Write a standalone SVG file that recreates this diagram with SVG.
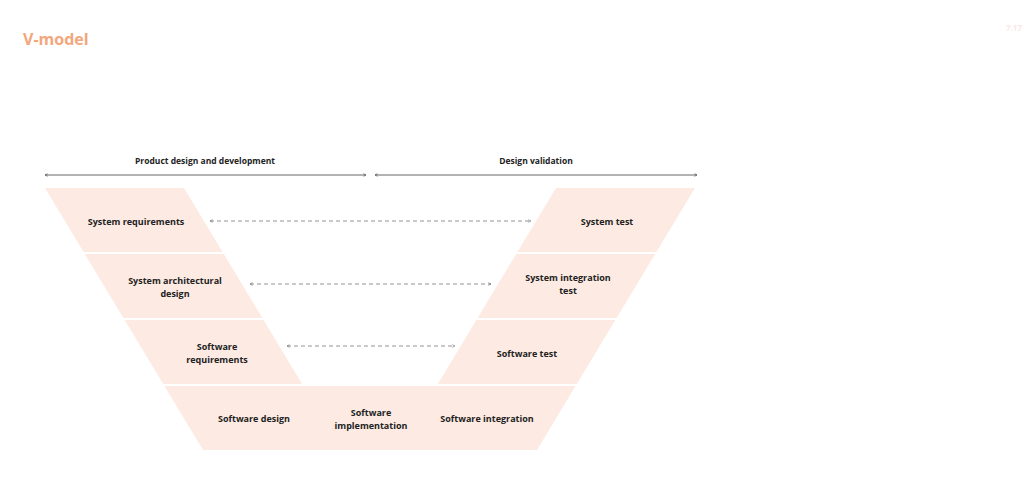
<svg xmlns="http://www.w3.org/2000/svg" width="1024" height="484" viewBox="0 0 1024 484">
  <style>
    .band { fill: #FDEBE3; }
    .lbl { font-family: "Open Sans", "Liberation Sans", sans-serif; font-weight: 700; font-size: 9px; fill: #222222; text-anchor: middle; }
    .hdr { font-family: "Open Sans", "Liberation Sans", sans-serif; font-weight: 700; font-size: 8.5px; fill: #222222; text-anchor: middle; }
    .title { font-family: "Open Sans", "Liberation Sans", sans-serif; font-weight: 700; font-size: 16px; fill: #F4A67C; }
    .span { stroke: #555555; stroke-width: 0.9; fill: none; marker-start: url(#ah); marker-end: url(#ah); }
    .link { stroke: #888888; stroke-width: 0.9; fill: none; stroke-dasharray: 4 3; marker-start: url(#ahd); marker-end: url(#ahd); }
  </style>
  <defs>
    <marker id="ah" viewBox="0 0 6 6" refX="5" refY="3" markerWidth="4" markerHeight="4" orient="auto-start-reverse" markerUnits="userSpaceOnUse">
      <path d="M1,1 L5,3 L1,5" fill="none" stroke="#555555" stroke-width="1"/>
    </marker>
    <marker id="ahd" viewBox="0 0 6 6" refX="5" refY="3" markerWidth="4" markerHeight="4" orient="auto-start-reverse" markerUnits="userSpaceOnUse">
      <path d="M1,1 L5,3 L1,5" fill="none" stroke="#777777" stroke-width="1"/>
    </marker>
  </defs>
  <rect width="1024" height="484" fill="#FFFFFF"/>
  <text class="title" x="23" y="45">V-model</text>
  <text x="1022" y="31" font-family="Open Sans, Liberation Sans, sans-serif" font-size="8" font-weight="700" fill="#FBE8E2" text-anchor="end">7.17</text>

  <g id="headers">
    <text class="hdr" x="205" y="164">Product design and development</text>
    <text class="hdr" x="536" y="164">Design validation</text>
  </g>

  <g id="sys-req">
    <polygon class="band" points="45,188 184,188 222.6,252 83.6,252"/>
    <text class="lbl" x="136" y="224.5">System requirements</text>
  </g>
  <g id="sys-arch">
    <polygon class="band" points="84.8,254 223.8,254 262.4,318 123.4,318"/>
    <text class="lbl" x="175" y="283.5">System architectural</text>
    <text class="lbl" x="175" y="296.5">design</text>
  </g>
  <g id="sw-req">
    <polygon class="band" points="124.6,320 263.6,320 302.2,384 163.2,384"/>
    <text class="lbl" x="217" y="349.5">Software</text>
    <text class="lbl" x="217" y="362.5">requirements</text>
  </g>
  <g id="bottom">
    <polygon class="band" points="164.4,386 575.6,386 537,450 203,450"/>
  </g>
  <g id="sw-design">
    <text class="lbl" x="254" y="421.5">Software design</text>
  </g>
  <g id="sw-impl">
    <text class="lbl" x="371" y="415.5">Software</text>
    <text class="lbl" x="371" y="428.5">implementation</text>
  </g>
  <g id="sw-int">
    <text class="lbl" x="487" y="421.5">Software integration</text>
  </g>
  <g id="sw-test">
    <polygon class="band" points="476.4,320 615.4,320 576.8,384 437.8,384"/>
    <text class="lbl" x="527" y="356.5">Software test</text>
  </g>
  <g id="sys-int-test">
    <polygon class="band" points="516.2,254 655.2,254 616.6,318 477.6,318"/>
    <text class="lbl" x="568" y="280.5">System integration</text>
    <text class="lbl" x="568" y="293.5">test</text>
  </g>
  <g id="sys-test">
    <polygon class="band" points="556,188 695,188 656.4,252 517.4,252"/>
    <text class="lbl" x="607" y="224.5">System test</text>
  </g>

  <g id="connectors">
    <line class="span" x1="45" y1="175" x2="366" y2="175"/>
    <line class="span" x1="375" y1="175" x2="697" y2="175"/>
    <line class="link" x1="210" y1="221" x2="531" y2="221"/>
    <line class="link" x1="250" y1="284" x2="491" y2="284"/>
    <line class="link" x1="287" y1="346" x2="455" y2="346"/>
  </g>
</svg>
